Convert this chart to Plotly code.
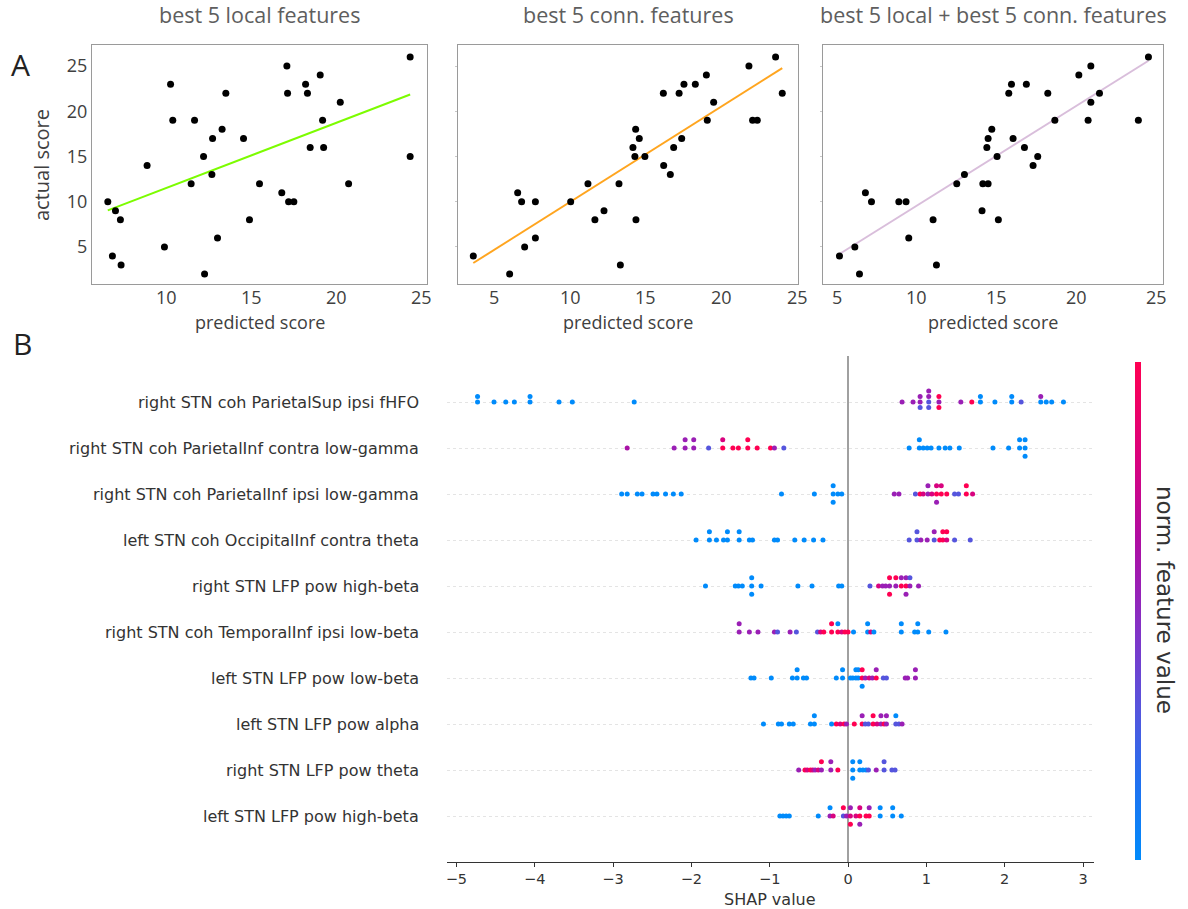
import numpy as np
import plotly.graph_objects as go

W, H = 1188, 909

# ---------------- Panel A data ----------------
pred_local = [6.53, 6.98, 7.27, 6.80, 7.31, 8.84, 9.86, 10.22, 10.35, 11.43, 11.63, 12.16,
              12.22, 12.69, 12.65, 12.98, 13.25, 13.47, 14.51, 14.86, 15.45, 16.76, 17.06,
              17.10, 17.16, 17.47, 18.16, 18.27, 18.43, 19.02, 19.16, 19.22, 20.20, 20.69,
              24.31, 24.31]
act_local = [10, 9, 8, 4, 3, 14, 5, 23, 19, 12, 19, 15, 2, 17, 13, 6, 18, 22, 17, 8, 12, 11,
             25, 22, 10, 10, 23, 22, 16, 24, 19, 16, 21, 12, 26, 15]

pred_conn = [3.61, 6.01, 6.54, 6.80, 7.00, 7.71, 7.71, 10.04, 11.18, 11.64, 12.24, 13.23,
             13.32, 14.15, 14.28, 14.33, 14.35, 14.57, 14.94, 16.16, 16.18, 16.62, 16.84,
             17.20, 17.37, 17.52, 18.27, 19.00, 19.06, 19.48, 21.81, 22.05, 22.36, 23.57,
             24.01]
act_conn = [4, 2, 11, 10, 5, 10, 6, 10, 12, 8, 9, 12, 3, 16, 15, 18, 8, 17, 15, 22, 14, 13,
            16, 22, 17, 23, 23, 24, 19, 21, 25, 19, 19, 26, 22]

pred_both = [5.17, 6.13, 6.42, 6.79, 7.17, 8.88, 9.33, 9.50, 11.02, 11.23, 12.50, 12.98,
             14.08, 14.13, 14.46, 14.38, 14.46, 14.69, 15.02, 15.10, 15.75, 15.92, 16.02,
             16.73, 16.85, 17.27, 17.56, 18.19, 18.63, 20.13, 20.71, 20.88, 20.88, 21.42,
             23.85, 24.48]
act_both = [4, 5, 2, 11, 10, 10, 10, 6, 8, 3, 12, 13, 9, 12, 12, 16, 17, 18, 15, 8, 22, 23,
            17, 16, 23, 14, 15, 22, 19, 24, 19, 25, 21, 22, 19, 26]

fit_local_x = [6.53, 24.31]
fit_local_y = [9.04, 21.85]
fit_conn_x = [3.61, 24.01]
fit_conn_y = [3.22, 24.78]
fit_both_x = [5.17, 24.48]
fit_both_y = [4.22, 25.59]

panel_titles = ["best 5 local features", "best 5 conn. features",
                "best 5 local + best 5 conn. features"]
score_ticks_y = [5, 10, 15, 20, 25]
score_ticks_x1 = [10, 15, 20, 25]
score_ticks_x23 = [5, 10, 15, 20, 25]

# ---------------- Panel B data ----------------
feature_names = [
    "right STN coh ParietalSup ipsi fHFO",
    "right STN coh ParietalInf contra low-gamma",
    "right STN coh ParietalInf ipsi low-gamma",
    "left STN coh OccipitalInf contra theta",
    "right STN LFP pow high-beta",
    "right STN coh TemporalInf ipsi low-beta",
    "left STN LFP pow low-beta",
    "left STN LFP pow alpha",
    "right STN LFP pow theta",
    "left STN LFP pow high-beta",
]
shap_ticks = [-5, -4, -3, -2, -1, 0, 1, 2, 3]

# normalised feature values (colour): blue .. red
B, BP, P, M, R = 0.0, 0.3, 0.55, 0.8, 1.0

shap_1 = [-4.73, -4.73, -4.52, -4.37, -4.26, -4.06, -4.06, -3.69, -3.52, -2.73,
          0.69, 0.83, 0.92, 0.92, 0.92, 1.03, 1.03, 1.03, 1.03, 1.16, 1.16, 1.16,
          1.44, 1.58, 1.69, 1.69, 1.875, 2.09, 2.09, 2.21, 2.46, 2.46, 2.53, 2.60, 2.75]
feat_1 = [B, B, B, B, B, B, B, B, B, B,
          P, P, P, P, BP, BP, P, BP, P, P, R, R,
          P, R, B, B, B, B, B, BP, B, P, B, B, B]

shap_2 = [-2.82, -2.22, -2.08, -2.08, -1.97, -1.97, -1.78, -1.60, -1.60, -1.47, -1.40,
          -1.28, -1.28, -1.16, -0.99, -0.94, -0.82,
          0.78, 0.91, 0.91, 0.96, 1.01, 1.06, 1.16, 1.24, 1.30, 1.42, 1.85, 2.05,
          2.19, 2.19, 2.26, 2.26, 2.26]
feat_2 = [0.62, P, P, P, P, P, BP, R, M, R, R, R, R, R, R, P, BP,
          B, B, B, B, B, B, B, B, B, B, B, B, B, B, B, B, B]

shap_3 = [-2.89, -2.82, -2.69, -2.63, -2.49, -2.44, -2.33, -2.23, -2.13, -0.85, -0.43,
          -0.19, -0.19, -0.19, -0.13, -0.08,
          0.59, 0.65, 0.86, 0.92, 0.96, 1.02, 1.02, 1.07, 1.13, 1.13, 1.13, 1.19, 1.19,
          1.26, 1.36, 1.41, 1.51, 1.51, 1.59]
feat_3 = [B, B, B, B, B, B, B, B, B, B, B, B, B, B, B, B,
          P, P, BP, R, M, P, P, M, R, M, P, R, M, R, BP, BP, R, R, M]

shap_4 = [-1.94, -1.77, -1.77, -1.68, -1.59, -1.54, -1.54, -1.39, -1.39, -1.26, -1.22,
          -0.94, -0.90, -0.68, -0.56, -0.44, -0.32,
          0.78, 0.88, 0.88, 0.93, 1.01, 1.10, 1.10, 1.17, 1.21, 1.21, 1.26, 1.26, 1.36, 1.56]
feat_4 = [B, B, B, B, B, B, B, B, B, B, B, B, B, B, B, B, B,
          BP, BP, BP, P, P, BP, P, R, R, R, M, R, BP, BP]

shap_5 = [-1.82, -1.44, -1.40, -1.35, -1.23, -1.23, -1.23, -1.11, -0.64, -0.46, -0.12, -0.08,
          0.28, 0.39, 0.44, 0.48, 0.53, 0.53, 0.53, 0.61, 0.61, 0.68, 0.68, 0.74, 0.74, 0.74,
          0.79, 0.79, 0.90]
feat_5 = [B, B, B, B, B, B, B, B, B, B, B, B,
          BP, M, P, P, P, R, R, P, R, R, P, R, P, P, P, BP, P]

shap_6 = [-1.39, -1.39, -1.26, -1.15, -0.94, -0.90, -0.74, -0.66, -0.39, -0.35, -0.31,
          -0.21, -0.21, -0.13, -0.13, -0.08, -0.04, 0.00, 0.07, 0.25, 0.25, 0.29, 0.33,
          0.68, 0.68, 0.85, 0.89, 0.89, 1.03, 1.25]
feat_6 = [P, P, P, P, P, BP, P, BP, BP, M, R, R, R, R, B, M, R, R, B, B, B, M, B,
          B, B, B, B, B, B, B]

shap_7 = [-1.24, -1.20, -0.98, -0.71, -0.65, -0.65, -0.57, -0.53, -0.15, -0.07, -0.07,
          0.03, 0.06, 0.10, 0.10, 0.13, 0.13, 0.18, 0.18, 0.18, 0.22, 0.27, 0.31, 0.36, 0.36,
          0.45, 0.49, 0.73, 0.76, 0.86, 0.86]
feat_7 = [B, B, B, B, B, B, B, B, B, B, B,
          B, B, B, B, B, B, R, R, B, P, M, P, R, P, BP, BP, P, P, P, P]

shap_8 = [-1.08, -0.89, -0.85, -0.75, -0.70, -0.48, -0.43, -0.43, -0.21, -0.15, -0.10,
          -0.05, -0.02, 0.08, 0.18, 0.18, 0.22, 0.26, 0.32, 0.32, 0.37, 0.42, 0.42, 0.46,
          0.49, 0.49, 0.61, 0.61, 0.65, 0.69]
feat_8 = [B, B, B, B, B, B, B, B, B, R, M, R, P, R, R, P, BP, BP, R, R, M, P, P, R,
          P, P, BP, B, BP, P]

shap_9 = [-0.63, -0.55, -0.52, -0.48, -0.45, -0.42, -0.38, -0.34, -0.34, -0.22, -0.22,
          -0.13, 0.06, 0.06, 0.06, 0.15, 0.15, 0.19, 0.23, 0.26, 0.36, 0.46, 0.46, 0.56, 0.60]
feat_9 = [P, R, M, R, M, P, M, P, R, P, P, R, B, B, B, B, B, B, B, BP, P, BP, BP, BP, BP]

shap_10 = [-0.87, -0.83, -0.79, -0.75, -0.38, -0.23, -0.23, -0.19, -0.06, -0.06, -0.02,
           0.03, 0.03, 0.03, 0.10, 0.15, 0.15, 0.15, 0.23, 0.27, 0.27, 0.41, 0.41,
           0.57, 0.57, 0.68]
feat_10 = [B, B, B, B, B, P, B, M, BP, R, P, M, P, R, M, R, M, P, R, R, P, B, B,
           B, B, B]

shap_rows = [shap_1, shap_2, shap_3, shap_4, shap_5, shap_6, shap_7, shap_8, shap_9, shap_10]
feat_rows = [feat_1, feat_2, feat_3, feat_4, feat_5, feat_6, feat_7, feat_8, feat_9, feat_10]


def swarm_offsets(xs, row_height=0.4):
    """shap-style beeswarm: equal values are stacked alternately up/down."""
    ys = np.zeros(len(xs))
    counts = {}
    for i, v in enumerate(xs):
        k = round(float(v), 6)
        layer = counts.get(k, 0)
        ys[i] = np.ceil(layer / 2) * ((layer % 2) * 2 - 1)
        counts[k] = layer + 1
    ys *= 0.9 * (row_height / np.max(ys + 1))
    return ys


def fx(p):
    return p / W


def fy(p):
    return 1 - p / H


fig = go.Figure()

# Panel A scatter + fits
panels = [(pred_local, act_local, fit_local_x, fit_local_y, "#7CFC00", "x", "y"),
          (pred_conn, act_conn, fit_conn_x, fit_conn_y, "#FFA51F", "x2", "y2"),
          (pred_both, act_both, fit_both_x, fit_both_y, "#D9BEDB", "x3", "y3")]
for px_, ay, lx, ly, col, xa, ya in panels:
    fig.add_trace(go.Scatter(x=lx, y=ly, mode="lines", line=dict(color=col, width=2),
                             xaxis=xa, yaxis=ya, showlegend=False, hoverinfo="skip"))
    fig.add_trace(go.Scatter(x=px_, y=ay, mode="markers",
                             marker=dict(color="black", size=7, line=dict(width=0)),
                             xaxis=xa, yaxis=ya, showlegend=False))

# Panel B beeswarm
colorscale = [[0.0, "#008bfb"], [0.15, "#1f72f0"], [0.3, "#5555dd"], [0.45, "#7f35c8"],
              [0.55, "#9a1fb5"], [0.65, "#b00da0"], [0.8, "#d8037f"], [1.0, "#ff0052"]]
n = len(feature_names)
for i, (sx, fv) in enumerate(zip(shap_rows, feat_rows)):
    pos = n - 1 - i
    ys = pos + swarm_offsets(sx)
    fig.add_trace(go.Scatter(x=sx, y=ys, mode="markers",
                             marker=dict(color=fv, coloraxis="coloraxis", size=5,
                                         line=dict(width=0)),
                             xaxis="x4", yaxis="y4", showlegend=False))

afont = dict(family="Open Sans", size=18, color="#404040")
frame = dict(showline=True, mirror=True, linecolor="#9a9a9a", linewidth=1.3,
             showgrid=False, zeroline=False, tickfont=afont)
ydom = [fy(284), fy(45)]
yr = [0.9, 27.33]
fig.update_layout(
    width=W, height=H, margin=dict(l=0, r=0, t=0, b=0),
    paper_bgcolor="white", plot_bgcolor="white",
    xaxis=dict(domain=[fx(92), fx(427)], range=[5.6, 25.3], tickvals=score_ticks_x1,
               showticklabels=False, ticks="", anchor="y", **frame),
    yaxis=dict(domain=ydom, range=yr, tickvals=score_ticks_y, anchor="x", ticks="",
               **frame),
    xaxis2=dict(domain=[fx(458), fx(798)], range=[2.6, 25.05], tickvals=score_ticks_x23,
                showticklabels=False, ticks="", anchor="y2", **frame),
    yaxis2=dict(domain=ydom, range=yr, tickvals=score_ticks_y, anchor="x2", ticks="outside",
                ticklen=2, tickcolor="#c8c8c8", showticklabels=False, **frame),
    xaxis3=dict(domain=[fx(823), fx(1163)], range=[4.14, 25.39], tickvals=score_ticks_x23,
                showticklabels=False, ticks="", anchor="y3", **frame),
    yaxis3=dict(domain=ydom, range=yr, tickvals=score_ticks_y, anchor="x3", ticks="outside",
                ticklen=2, tickcolor="#c8c8c8", showticklabels=False, **frame),
    xaxis4=dict(domain=[fx(447), fx(1094)], range=[-5.12, 3.14], tickvals=shap_ticks,
                anchor="y4", showline=True, linecolor="#333333", linewidth=1,
                ticks="outside", ticklen=4, tickcolor="#333333", showgrid=False,
                zeroline=True, zerolinecolor="#a0a0a0", zerolinewidth=1.5,
                tickfont=dict(family="DejaVu Sans", size=14.5, color="#333333")),
    yaxis4=dict(domain=[fy(862), fy(356)], range=[-1, 10], tickvals=list(range(n)),
                anchor="x4", showticklabels=False, showline=False, zeroline=False,
                showgrid=True, gridcolor="#e4e4e4", gridwidth=0.5, griddash="dot", ticks=""),
    coloraxis=dict(colorscale=colorscale, cmin=0, cmax=1,
                   colorbar=dict(x=fx(1135), xanchor="left", y=fy(611), yanchor="middle",
                                 len=(860 - 362) / H, lenmode="fraction", thickness=6,
                                 outlinewidth=0, showticklabels=False, ticks="",
                                 xpad=0, ypad=0)),
)

ann = []
centers = [(92 + 427) / 2, (458 + 798) / 2, (823 + 1163) / 2]
for c, t in zip(centers, panel_titles):
    ann.append(dict(x=fx(c), y=fy(15), xref="paper", yref="paper", text=t, showarrow=False,
                    xanchor="center", yanchor="middle",
                    font=dict(family="Open Sans", size=21.5, color="#5e5e5e")))
    ann.append(dict(x=fx(c), y=fy(322), xref="paper", yref="paper", text="predicted score",
                    showarrow=False, xanchor="center", yanchor="middle", font=afont))
# x tick labels of panel A as text just below each frame
for xa, tv in [("x", score_ticks_x1), ("x2", score_ticks_x23), ("x3", score_ticks_x23)]:
    for v in tv:
        ann.append(dict(x=v, y=fy(297), xref=xa, yref="paper", text=str(v), showarrow=False,
                        xanchor="center", yanchor="middle", font=afont))
ann.append(dict(x=fx(42), y=fy(165), xref="paper", yref="paper", text="actual score",
                showarrow=False, textangle=-90, xanchor="center", yanchor="middle",
                font=dict(family="Open Sans", size=20, color="#404040")))
ann.append(dict(x=fx(20), y=fy(64), xref="paper", yref="paper", text="A", showarrow=False,
                xanchor="center", yanchor="middle",
                font=dict(family="Open Sans", size=30, color="#222222")))
ann.append(dict(x=fx(22), y=fy(343), xref="paper", yref="paper", text="B", showarrow=False,
                xanchor="center", yanchor="middle",
                font=dict(family="Open Sans", size=30, color="#222222")))
for i, name in enumerate(feature_names):
    ann.append(dict(x=fx(421), y=n - 1 - i, xref="paper", yref="y4", text=name,
                    showarrow=False, xanchor="right", yanchor="middle",
                    font=dict(family="DejaVu Sans", size=16, color="#333333")))
ann.append(dict(x=fx(770), y=fy(899), xref="paper", yref="paper", text="SHAP value",
                showarrow=False, xanchor="center", yanchor="middle",
                font=dict(family="DejaVu Sans", size=16, color="#333333")))
ann.append(dict(x=fx(1165), y=fy(600), xref="paper", yref="paper",
                text="norm. feature value", showarrow=False, textangle=90,
                xanchor="center", yanchor="middle",
                font=dict(family="DejaVu Sans", size=23, color="#333333")))
fig.update_layout(annotations=ann)

fig.write_html("out.html", config={"displayModeBar": False},
               post_script="document.body.style.margin='0px';")
